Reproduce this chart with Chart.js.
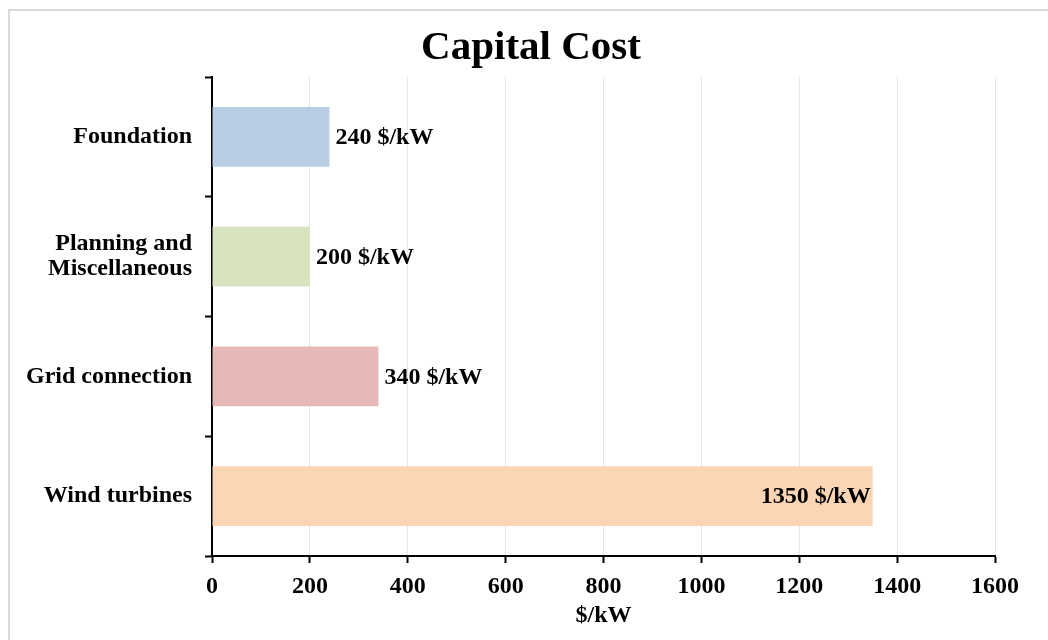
<!DOCTYPE html>
<html>
<head>
<meta charset="utf-8">
<title>Capital Cost</title>
<script src="https://cdn.jsdelivr.net/npm/chart.js@4/dist/chart.umd.min.js"></script>
<style>
  html, body { margin: 0; padding: 0; background: #ffffff; }
  #wrap { width: 1048px; height: 640px; position: relative; }
</style>
</head>
<body>
<div id="wrap"><canvas id="chart" width="1048" height="640"></canvas></div>
<script>
// Cost components and their values in $/kW
const categories = ['Foundation', ['Planning and', 'Miscellaneous'], 'Grid connection', 'Wind turbines'];
const costs = [240, 200, 340, 1350];
const barColors = ['#b9cde5', '#d7e4bd', '#e6b9b8', '#fcd5b5'];
const xTicks = [0, 200, 400, 600, 800, 1000, 1200, 1400, 1600];
const unit = '$/kW';
const chartTitle = 'Capital Cost';

const SERIF = '"Liberation Serif", "Times New Roman", serif';
const TEXT_SIZE = 24;

// Light grey frame around the figure
const framePlugin = {
  id: 'frame',
  beforeDraw(chart) {
    const ctx = chart.ctx;
    ctx.save();
    ctx.fillStyle = '#ffffff';
    ctx.fillRect(0, 0, chart.width, chart.height);
    ctx.strokeStyle = '#d9d9d9';
    ctx.lineWidth = 2;
    ctx.strokeRect(9, 10, chart.width + 20, chart.height + 20);
    ctx.restore();
  }
};

// Heading drawn above the plot
const headingPlugin = {
  id: 'heading',
  afterDraw(chart) {
    const ctx = chart.ctx;
    ctx.save();
    ctx.font = 'bold 41px ' + SERIF;
    ctx.fillStyle = '#000000';
    ctx.textAlign = 'center';
    ctx.textBaseline = 'middle';
    ctx.fillText(chartTitle, 531, 48);
    ctx.restore();
  }
};

// Value labels at the end of each bar
const valueLabelPlugin = {
  id: 'valueLabels',
  afterDatasetsDraw(chart) {
    const ctx = chart.ctx;
    const meta = chart.getDatasetMeta(0);
    const area = chart.chartArea;
    ctx.save();
    ctx.font = 'bold ' + TEXT_SIZE + 'px ' + SERIF;
    ctx.fillStyle = '#000000';
    ctx.textBaseline = 'middle';
    meta.data.forEach((bar, i) => {
      const text = costs[i] + ' ' + unit;
      const inside = (bar.x - area.left) > (area.right - area.left) / 2;
      if (inside) {
        ctx.textAlign = 'right';
        ctx.fillText(text, bar.x - 2, bar.y + 1);
      } else {
        ctx.textAlign = 'left';
        ctx.fillText(text, bar.x + 6, bar.y + 1);
      }
    });
    ctx.restore();
  }
};

new Chart(document.getElementById('chart'), {
  type: 'bar',
  data: {
    labels: categories,
    datasets: [{
      data: costs,
      backgroundColor: barColors,
      borderWidth: 0,
      barPercentage: 0.5,
      categoryPercentage: 1.0
    }]
  },
  plugins: [framePlugin, headingPlugin, valueLabelPlugin],
  options: {
    indexAxis: 'y',
    responsive: false,
    animation: false,
    devicePixelRatio: 1,
    layout: { padding: { top: 77, left: 10, right: 53, bottom: 0 } },
    plugins: {
      legend: { display: false },
      title: { display: false },
      tooltip: { enabled: false }
    },
    scales: {
      x: {
        min: 0,
        max: 1600,
        afterBuildTicks(scale) { scale.ticks = xTicks.map(v => ({ value: v })); },
        afterFit(scale) { scale.height = 84; },
        grid: {
          color: '#e6e6e6',
          lineWidth: 1,
          drawTicks: true,
          tickLength: 7,
          tickColor: '#000000',
          tickWidth: 2
        },
        border: { display: true, color: '#000000', width: 2 },
        ticks: {
          color: '#000000',
          padding: 9,
          font: { family: SERIF, size: TEXT_SIZE, weight: 'bold' },
          maxRotation: 0,
          callback: (value) => String(value)
        },
        title: {
          display: true,
          text: unit,
          color: '#000000',
          padding: { top: 0, bottom: 10 },
          font: { family: SERIF, size: TEXT_SIZE, weight: 'bold' }
        }
      },
      y: {
        afterFit(scale) { scale.width = 202; },
        grid: {
          offset: true,
          drawOnChartArea: false,
          drawTicks: true,
          tickLength: 7,
          tickColor: '#000000',
          tickWidth: 2
        },
        border: { display: true, color: '#000000', width: 2 },
        ticks: {
          color: '#000000',
          padding: 13,
          font: { family: SERIF, size: TEXT_SIZE, weight: 'bold', lineHeight: 1.05 }
        }
      }
    }
  }
});
</script>
</body>
</html>
